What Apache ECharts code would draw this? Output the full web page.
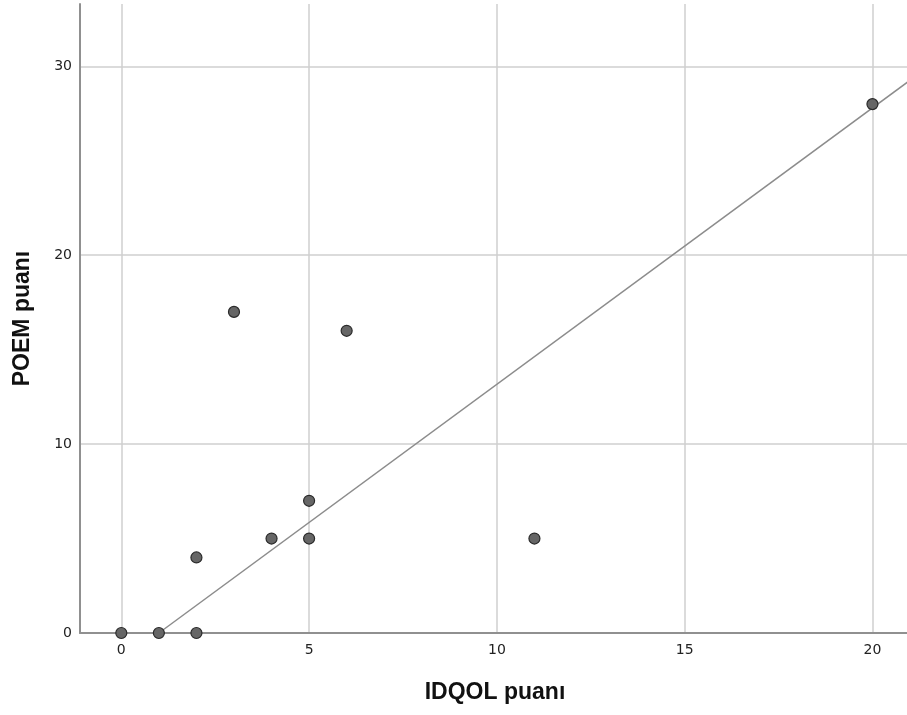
<!DOCTYPE html>
<html>
<head>
<meta charset="utf-8">
<script src="https://cdn.jsdelivr.net/npm/echarts@6/dist/echarts.min.js"></script>
<style>html,body{margin:0;padding:0;background:#fff}#c{width:907px;height:715px}</style>
</head>
<body>
<div id="c"></div>
<script>
// Data
const idqol = [0, 1, 2, 2, 3, 4, 5, 5, 6, 11, 20];
const poem  = [0, 0, 0, 4, 17, 5, 5, 7, 16, 5, 28];
// Fit line (y = intercept + slope * x)
const fitIntercept = -1.463;
const fitSlope = 1.463;
const fitX = [1, 21];
const xTicks = [0, 5, 10, 15, 20];
const yTicks = [0, 10, 20, 30];
const xTitle = 'IDQOL puanı';
const yTitle = 'POEM puanı';

const points = idqol.map((x, i) => [x, poem[i]]);
const fitLine = fitX.map(x => [x, fitIntercept + fitSlope * x]);

const chart = echarts.init(document.getElementById('c'), null, {renderer: 'canvas'});
const labelFont = {fontFamily: 'DejaVu Sans', fontSize: 14, color: '#222'};
const titleFont = {fontFamily: 'Liberation Sans', fontWeight: 'bold', fontSize: 23, color: '#111'};
chart.setOption({
  animation: false,
  backgroundColor: '#fff',
  grid: {left: 80, top: 4, width: 830, bottom: 82, containLabel: false, outerBoundsMode: 'none'},
  xAxis: {
    type: 'value', min: -1.1, max: 21, minInterval: 5, maxInterval: 5,
    name: xTitle, nameLocation: 'middle', nameGap: 48, nameTextStyle: titleFont,
    axisLine: {show: true, onZero: false, lineStyle: {color: '#909090', width: 2}},
    axisTick: {show: false},
    axisLabel: Object.assign({margin: 10, showMinLabel: false, showMaxLabel: false,
      formatter: v => xTicks.includes(v) ? String(v) : ''}, labelFont),
    splitLine: {show: true, showMinLine: false, showMaxLine: false, lineStyle: {color: '#cfcfcf', width: 1.5}}
  },
  yAxis: {
    type: 'value', min: 0, max: 33.3, interval: 10,
    name: yTitle, nameLocation: 'middle', nameGap: 46, nameRotate: 90, nameTextStyle: titleFont,
    axisLine: {show: true, onZero: false, lineStyle: {color: '#909090', width: 2}},
    axisTick: {show: false},
    axisLabel: Object.assign({margin: 8, showMaxLabel: false,
      formatter: v => yTicks.includes(v) ? String(v) : ''}, labelFont),
    splitLine: {show: true, showMinLine: false, showMaxLine: false, lineStyle: {color: '#cfcfcf', width: 1.5}}
  },
  series: [
    {
      type: 'line', data: fitLine, symbol: 'none', clip: true, z: 3,
      lineStyle: {color: '#8c8c8c', width: 1.5}
    },
    {
      type: 'scatter', data: points, symbol: 'circle', symbolSize: 11, clip: false, z: 5,
      itemStyle: {color: '#666666', borderColor: '#2a2a2a', borderWidth: 1.2, opacity: 1}
    }
  ]
});
</script>
</body>
</html>
